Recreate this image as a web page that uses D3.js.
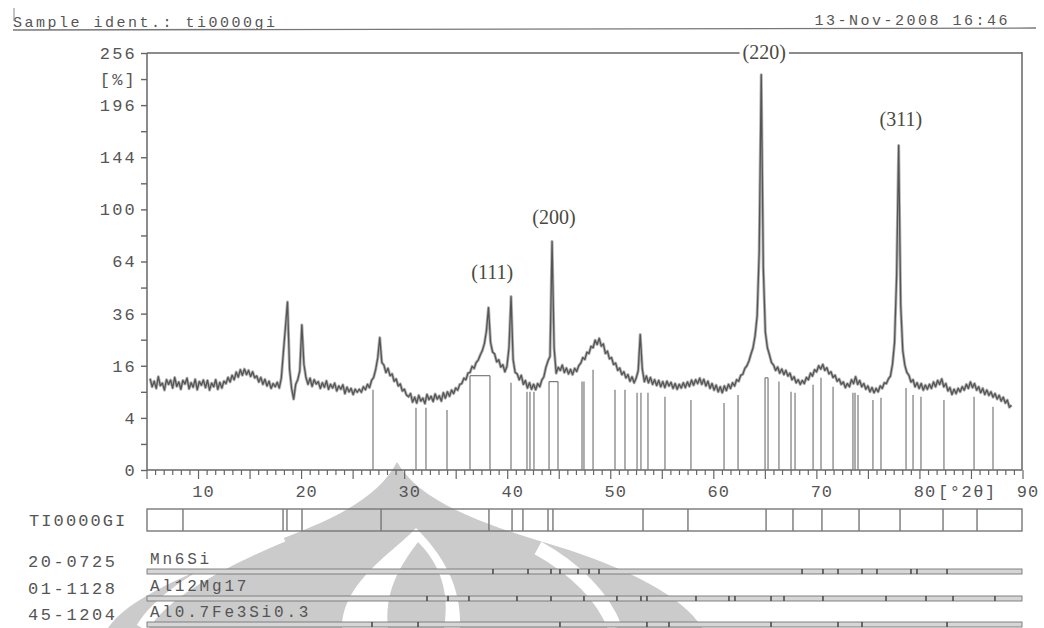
<!DOCTYPE html>
<html>
<head>
<meta charset="utf-8">
<script src="https://cdn.jsdelivr.net/npm/d3@7"></script>
<style>
  body { margin: 0; background: #fff; }
  svg { display: block; }
  .mono { font-family: "Liberation Mono", "DejaVu Sans Mono", monospace; fill: #555; }
  .hkl { font-family: "Liberation Serif", "DejaVu Serif", serif; fill: #4a4a40; }
</style>
</head>
<body>
<svg id="xrd" width="1044" height="628"></svg>
<script>
// header texts
const sampleIdent = 'ti0000gi';
const scanDate = '13-Nov-2008 16:46';
const sampleCode = 'TI0000GI';

// measured scan: counts [%] every scanStep degrees 2theta, starting at scanStart
const scanStart = 5.3;
const scanStep = 0.199;
const scanCounts = [
  12.3, 10.2, 11.6, 9.8, 12.8, 10.5, 11.1, 9.4, 12.0, 10.8, 11.9, 9.9, 12.6, 10.3, 11.4, 9.6, 11.8, 10.9, 12.4, 9.7,
  11.2, 10.1, 12.1, 9.5, 11.5, 10.6, 11.9,
  10.0, 11.8, 9.4, 11.1, 10.2, 12.0, 9.6, 11.3, 9.9, 11.6,
  11.0, 12.6, 11.4, 13.2, 12.0, 14.1, 12.7, 14.8, 13.2, 15.0, 13.4, 14.6, 12.9, 14.2, 12.5,
  13.0, 11.4, 12.6, 10.8, 12.1, 10.4, 11.6, 9.8, 11.0, 10.2, 11.3, 9.9,
  12.5, 20.5, 30.0, 41.5, 15.0, 9.8, 7.4, 10.8, 12.0, 14.5, 31.0, 16.5, 12.6, 10.8, 12.4,
  10.3, 12.0, 10.9, 11.5, 9.8, 11.2, 10.1, 11.7, 9.6, 10.8, 9.9, 11.1, 9.2, 10.4, 9.6, 10.7, 8.6, 10.1, 9.0, 9.8,
  8.4, 9.6, 8.9,
  9.6, 8.9, 10.2, 9.5, 10.8, 10.0, 11.8, 12.6, 14.9, 18.5, 25.8, 17.0, 16.2, 14.0, 15.2, 13.1, 13.6, 11.6, 12.2, 10.4,
  10.9, 9.2, 9.6, 8.3,
  7.9, 8.6, 6.8, 7.8, 6.6, 8.2, 7.0, 7.6, 6.5, 8.4, 7.3, 8.0, 6.9, 8.5, 7.4, 8.1, 7.0, 8.8, 7.6, 9.0,
  8.0, 9.4, 8.6, 9.9, 9.4, 10.8,
  11.0, 12.4, 12.0, 13.8, 14.0, 15.8, 15.2, 17.0, 17.8, 19.5, 21.0, 23.5, 28.5,
  38.8, 24.0, 20.5, 19.8, 17.2, 17.9, 15.6, 16.3, 14.2, 15.8,
  22.0, 44.3, 18.0, 14.0, 13.6, 12.0, 13.2, 10.8, 11.8, 9.9,
  11.2, 9.6, 10.8, 9.5, 11.0, 10.2, 11.9, 12.8, 15.5, 17.5,
  19.0, 76.9, 22.0, 13.8, 15.5, 14.6, 16.2, 14.0, 15.3, 13.6,
  14.9, 13.4, 15.2, 14.3, 16.0, 16.8, 18.6, 18.0, 20.4, 20.0,
  22.5, 22.0, 24.8, 23.2, 25.5, 22.6, 23.4, 20.0, 20.8, 18.2,
  18.6, 16.4, 16.8, 14.6, 15.3, 13.4, 14.2, 12.5, 13.4, 11.6,
  12.8, 11.2, 12.4, 14.5, 27.0, 15.0, 11.5, 13.0, 11.2, 12.6,
  10.8, 12.0, 10.5, 11.8, 10.2, 11.5, 10.0, 11.6, 10.4, 11.3,
  9.8, 11.0, 9.6, 10.8, 9.9, 11.2, 10.0, 11.4, 10.3, 11.9,
  10.6, 12.0, 11.0, 12.4, 10.8, 12.1, 10.4, 11.6, 9.8, 11.0,
  9.4, 10.6, 9.0, 10.2, 8.8, 10.4, 9.3, 10.8, 9.8, 11.2,
  10.4, 12.0, 11.6, 13.2, 13.5, 15.2, 16.0, 17.5, 19.8, 22.0,
  26.5, 35.0, 70.0, 230.0, 60.0, 28.0, 22.0, 19.5, 17.0, 16.2,
  14.6, 15.6, 13.8, 15.0, 13.4, 14.6, 13.0, 13.8, 12.0, 12.8,
  11.2, 12.0, 10.8, 11.8, 11.0, 12.6, 12.0, 13.8, 13.0, 14.8,
  14.2, 16.0, 15.0, 16.4, 14.6, 15.4, 13.6, 14.2, 12.6, 13.2,
  11.6, 12.2, 10.8, 11.4, 10.0, 11.0, 10.2, 12.0, 11.0, 12.8,
  10.8, 11.8, 10.2, 11.0, 9.6, 10.4, 9.0, 10.0, 8.8, 9.8,
  9.0, 10.4, 9.8, 11.2, 11.0, 12.2, 13.0, 16.5, 24.0, 55.0,
  155.0, 40.0, 21.0, 16.2, 14.0, 13.2, 11.4, 12.0, 10.2, 11.2,
  9.8, 11.0, 9.4, 10.6, 9.6, 10.8, 9.8, 11.4, 10.2, 11.8,
  10.8, 12.2, 10.2, 11.0, 9.2, 10.0, 8.4, 9.6, 8.6, 9.8,
  9.0, 10.2, 9.4, 10.8, 9.8, 11.4, 10.0, 11.0, 9.4, 10.2,
  8.8, 9.8, 8.4, 9.4, 8.2, 9.0, 7.8, 8.6, 7.4, 8.2,
  7.0, 7.8, 6.6, 7.2, 5.8, 6.2
];

// peak search sticks (2theta) and the level they reach
const stickAngles = [26.93, 31.10, 32.07, 34.11, 36.34, 38.28, 40.32, 41.87, 42.16, 42.55, 44.01, 44.88, 47.21, 47.40,
  48.28, 50.41, 51.38, 52.55, 52.93, 53.61, 55.26, 57.78, 60.99, 62.35, 64.97, 65.26, 66.32, 67.49, 67.88, 69.63,
  70.40, 71.57, 73.50, 73.70, 73.99, 75.44, 76.22, 78.65, 79.33, 80.10, 82.33, 85.25, 87.09];
const stickTops = [9.5, 5.7, 5.7, 5.3, 13.1, 13.1, 11.2, 9.0, 9.0, 9.0, 11.5, 11.5, 11.5, 11.5,
  14.8, 9.5, 9.5, 8.8, 8.8, 8.8, 7.9, 7.2, 6.6, 8.3, 12.5, 12.5, 11.5, 9.0, 8.8, 10.7,
  12.5, 10.2, 8.8, 8.8, 8.3, 7.2, 7.7, 9.9, 8.3, 7.9, 7.2, 7.9, 5.9];
// sticks joined on top (index pairs)
const stickPairs = [[4, 5], [10, 11], [24, 25]];

// hkl labels of the aluminium peaks
const hklLabels = ['(111)', '(200)', '(220)', '(311)'];
const hklAngles = [38.3, 44.3, 64.7, 77.95];
const hklCounts = [38.8, 76.9, 230, 155];

// axis ticks
const yLabelValues = [0, 4, 16, 36, 64, 100, 144, 196, 256];
const yMinorValues = [1, 9, 25, 49, 81, 121, 169, 225];
const xLabelValues = [10, 20, 30, 40, 50, 60, 70, 80, 90];

// peak list strip of the sample
const stripAngles = [8.49, 18.20, 18.58, 20.04, 27.71, 38.18, 40.42, 41.48, 43.91, 44.39, 53.13, 57.49,
  65.07, 67.68, 70.49, 74.09, 78.07, 82.24, 85.54];

// reference patterns
const phaseCodes = ['20-0725', '01-1128', '45-1204'];
const phaseNames = ['Mn6Si', 'Al12Mg17', 'Al0.7Fe3Si0.3'];
const phaseLines = [
  [38.57, 41.97, 44.20, 45.07, 46.82, 47.89, 48.86, 68.56, 70.59, 72.05, 74.38, 75.83, 79.13, 79.71, 82.63],
  [32.17, 34.21, 36.24, 40.90, 44.20, 47.40, 50.60, 52.93, 53.51, 58.27, 61.47, 62.05, 65.55, 66.81, 70.59,
   76.71, 80.59, 83.21, 87.28],
  [26.83, 31.30, 45.07, 53.51, 55.65, 65.55, 72.05, 74.38, 82.63]
];

// layout
const plot = {left: 147, right: 1022, top: 53, bottom: 470};
const ink = '#555';

const svg = d3.select('#xrd');

// ---- watermark (university logo, light grey, behind everything)
const wm = svg.append('g').attr('class', 'watermark');
wm.append('path')
  .attr('d', 'M397,462 C378,498 335,520 262,546 C190,572 128,598 108,628 L702,628 C684,596 622,566 556,546 C468,520 418,498 397,462 Z')
  .attr('fill', '#cbcbcb');
wm.append('path')
  .attr('d', 'M283,536 C218,563 162,594 142,628')
  .attr('fill', 'none').attr('stroke', '#fff').attr('stroke-width', 12);
wm.append('path')
  .attr('d', 'M538,548 C576,569 604,598 615,628')
  .attr('fill', 'none').attr('stroke', '#fff').attr('stroke-width', 14);
wm.append('path')
  .attr('d', 'M416,528 C394,552 342,582 342,628 L460,628 C462,586 442,554 416,528 Z')
  .attr('fill', '#fff');
wm.append('path')
  .attr('d', 'M418,542 C398,568 384,594 388,628 L444,628 C450,592 440,564 418,542 Z')
  .attr('fill', '#cbcbcb');

// ---- header
svg.append('text')
  .attr('class', 'mono')
  .attr('x', 13).attr('y', 27)
  .attr('font-size', 15).attr('letter-spacing', 2.5)
  .text('Sample ident.: ' + sampleIdent);
svg.append('text')
  .attr('class', 'mono')
  .attr('x', 1010).attr('y', 25)
  .attr('text-anchor', 'end')
  .attr('font-size', 15).attr('letter-spacing', 2.5)
  .text(scanDate);
svg.append('line')
  .attr('x1', 13).attr('y1', 30).attr('x2', 1036).attr('y2', 28)
  .attr('stroke', '#777').attr('stroke-width', 1.3);
svg.append('line')
  .attr('x1', 14).attr('y1', 8).attr('x2', 14).attr('y2', 21)
  .attr('stroke', '#888').attr('stroke-width', 1);

// ---- scales
const xScale = d3.scaleLinear()
  .domain([5, 90])
  .range([plot.left, plot.right + 1]);

const yScale = d3.scaleSqrt()
  .domain([0, 256])
  .range([plot.bottom, plot.top]);

// ---- y axis with labels and ticks
const yAxis = svg.append('g')
  .attr('transform', `translate(${plot.left},0)`)
  .call(d3.axisLeft(yScale)
    .tickValues(yLabelValues.concat(yMinorValues))
    .tickSize(6)
    .tickFormat(d => d === 225 ? '[%]' : (yLabelValues.includes(d) ? d : '')));
yAxis.select('.domain').remove();
yAxis.selectAll('line').attr('stroke', '#666').attr('stroke-width', 1.4);
yAxis.selectAll('text')
  .attr('class', 'mono')
  .attr('x', -10)
  .attr('font-size', 17)
  .attr('letter-spacing', 2.2)
  .attr('fill', '#555');

// ---- x axis: ticks down every 5/6 degree, long every 5
const xTicks = d3.range(0, 103).map(i => 5 + i * 5 / 6).filter(d => d <= 90.01);
const xAxis = svg.append('g')
  .attr('transform', `translate(0,${plot.bottom})`);
xAxis.selectAll('line')
  .data(xTicks)
  .join('line')
    .attr('x1', d => xScale(d)).attr('x2', d => xScale(d))
    .attr('y1', 0)
    .attr('y2', (d, i) => i % 6 === 0 ? 9 : 5)
    .attr('stroke', '#666').attr('stroke-width', 1.2);
xAxis.selectAll('text')
  .data(xLabelValues)
  .join('text')
    .attr('class', 'mono')
    .attr('x', d => xScale(d) + 5)
    .attr('y', 27)
    .attr('text-anchor', 'middle')
    .attr('font-size', 17)
    .attr('letter-spacing', 1)
    .text(d => d);
xAxis.append('text')
  .attr('class', 'mono')
  .attr('x', xScale(84.6))
  .attr('y', 27)
  .attr('text-anchor', 'middle')
  .attr('font-size', 17)
  .attr('letter-spacing', 1.5)
  .text('[°2θ]');

// ---- frame
svg.append('line')
  .attr('x1', plot.left).attr('y1', plot.top).attr('x2', plot.left).attr('y2', plot.bottom)
  .attr('stroke', '#666').attr('stroke-width', 1.5);
svg.append('line')
  .attr('x1', plot.left).attr('y1', plot.bottom).attr('x2', plot.right).attr('y2', plot.bottom)
  .attr('stroke', '#666').attr('stroke-width', 1.5);
svg.append('line')
  .attr('x1', plot.right).attr('y1', plot.top - 1).attr('x2', plot.right).attr('y2', plot.bottom)
  .attr('stroke', '#666').attr('stroke-width', 1.5);

// ---- sticks from peak search
const sticks = svg.append('g').attr('class', 'sticks');
sticks.selectAll('line')
  .data(stickAngles)
  .join('line')
    .attr('x1', d => xScale(d)).attr('x2', d => xScale(d))
    .attr('y1', plot.bottom)
    .attr('y2', (d, i) => yScale(stickTops[i]))
    .attr('stroke', '#7a7a7a').attr('stroke-width', 1.2);
sticks.selectAll('path')
  .data(stickPairs)
  .join('path')
    .attr('d', p => `M${xScale(stickAngles[p[0]])},${yScale(stickTops[p[0]])}H${xScale(stickAngles[p[1]])}`)
    .attr('stroke', '#7a7a7a').attr('stroke-width', 1.2);

// ---- the scan trace: a soft band under a thin line, like the noisy print
const line = d3.line()
  .x((d, i) => xScale(scanStart + i * scanStep))
  .y(d => yScale(d));
svg.append('path')
  .datum(scanCounts)
  .attr('d', line)
  .attr('fill', 'none')
  .attr('stroke', '#808080')
  .attr('stroke-opacity', 0.6)
  .attr('stroke-width', 3)
  .attr('stroke-linejoin', 'round');
svg.append('path')
  .datum(scanCounts)
  .attr('d', line)
  .attr('fill', 'none')
  .attr('stroke', ink)
  .attr('stroke-width', 1.3)
  .attr('stroke-linejoin', 'round');

// ---- hkl labels, (220) sits in a gap of the top frame line
const labelLift = {'(111)': 29, '(200)': 17, '(220)': 16, '(311)': 20};
const hkl = svg.append('g').selectAll('text')
  .data(hklLabels)
  .join('text')
    .attr('class', 'hkl')
    .attr('x', (d, i) => xScale(hklAngles[i]) + 2)
    .attr('y', (d, i) => yScale(hklCounts[i]) - labelLift[d])
    .attr('text-anchor', 'middle')
    .attr('font-size', 20)
    .text(d => d);
const box220 = hkl.filter(d => d === '(220)').node().getBBox();
svg.append('line')
  .attr('x1', plot.left).attr('y1', plot.top).attr('x2', box220.x - 3).attr('y2', plot.top)
  .attr('stroke', '#666').attr('stroke-width', 1.5);
svg.append('line')
  .attr('x1', box220.x + box220.width + 3).attr('y1', plot.top).attr('x2', plot.right).attr('y2', plot.top)
  .attr('stroke', '#666').attr('stroke-width', 1.5);

// ---- sample peak strip
svg.append('text')
  .attr('class', 'mono')
  .attr('x', 29).attr('y', 526)
  .attr('font-size', 17).attr('letter-spacing', 2.1)
  .text(sampleCode);
svg.append('rect')
  .attr('x', plot.left).attr('y', 509)
  .attr('width', plot.right - plot.left).attr('height', 22)
  .attr('fill', 'none').attr('stroke', '#777').attr('stroke-width', 1.4);
svg.append('g').selectAll('line')
  .data(stripAngles)
  .join('line')
    .attr('x1', d => xScale(d)).attr('x2', d => xScale(d))
    .attr('y1', 509).attr('y2', 531)
    .attr('stroke', '#777').attr('stroke-width', 1.4);

// ---- reference phases
const rowBase = [567, 594, 620];
const phase = svg.append('g').selectAll('g')
  .data(phaseCodes)
  .join('g')
    .attr('transform', (d, i) => `translate(0,${rowBase[i]})`);
phase.append('text')
  .attr('class', 'mono')
  .attr('x', 28).attr('y', 0)
  .attr('font-size', 17).attr('letter-spacing', 2.6)
  .text(d => d);
phase.append('text')
  .attr('class', 'mono')
  .attr('x', 150).attr('y', -3)
  .attr('font-size', 16).attr('letter-spacing', 2.8)
  .text((d, i) => phaseNames[i]);
phase.append('rect')
  .attr('x', plot.left).attr('y', 2)
  .attr('width', plot.right - plot.left).attr('height', 5)
  .attr('fill', '#d6d6d6').attr('stroke', '#777').attr('stroke-width', 0.9);
phase.selectAll('line')
  .data((d, i) => phaseLines[i])
  .join('line')
    .attr('x1', d => xScale(d)).attr('x2', d => xScale(d))
    .attr('y1', 2).attr('y2', 7)
    .attr('stroke', '#444').attr('stroke-width', 1.5);
</script>
</body>
</html>
